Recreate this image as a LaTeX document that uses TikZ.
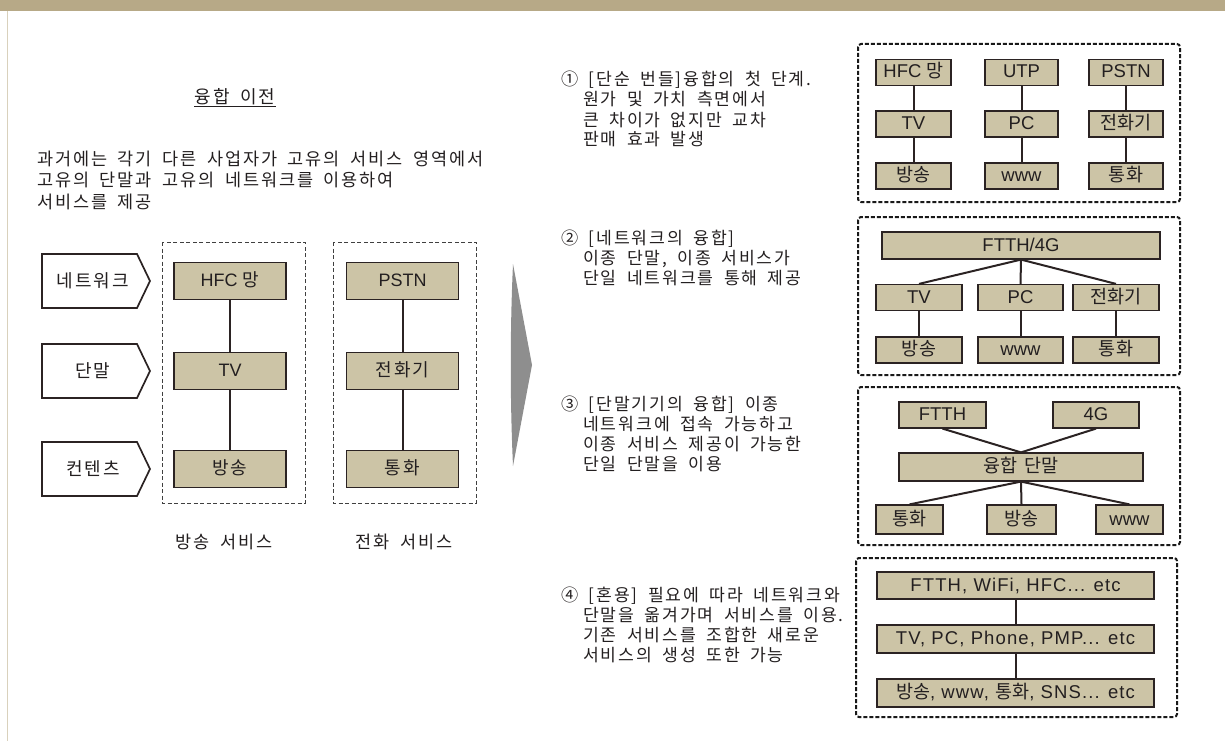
\documentclass[tikz,border=0pt]{standalone}
\usepackage{fontspec}
\setmainfont{Noto Sans CJK KR}[WordSpace=1.8, LetterSpace=11]
\newfontfamily\boxkr{Noto Sans CJK KR}[WordSpace=1.5]
\newfontfamily\lat{Liberation Sans}
\newfontfamily\latw{Liberation Sans}[LetterSpace=6]
\definecolor{boxtan}{HTML}{CCC4A6}
\definecolor{bandtan}{HTML}{B7A987}
\definecolor{linetan}{HTML}{D9D1BC}
\definecolor{ink}{HTML}{2B2323}
\definecolor{txt}{HTML}{231F20}
\definecolor{arrowgray}{HTML}{8E8E8E}
\tikzset{
  lbox/.style={draw=ink, fill=boxtan, line width=1.3pt, inner sep=0pt, minimum width=112pt, minimum height=37pt, text=txt, font=\fontsize{18}{20}\selectfont, text height=13pt, text depth=2pt},
  rbox/.style={draw=ink, fill=boxtan, line width=1.2pt, inner sep=0pt, minimum height=26pt, text=txt, font=\fontsize{18.5}{20}\selectfont\boxkr, text height=13pt, text depth=2pt},
  link/.style={draw=ink, line width=2pt},
  ldash/.style={draw=black!75, line width=0.9pt, dash pattern=on 4pt off 2.5pt},
  rdash/.style={draw=black!90, line width=2pt, dash pattern=on 4pt off 2pt, rounded corners=3pt},
  penta/.style={draw=ink, fill=white, line width=1.7pt},
  plabel/.style={text=txt, font=\fontsize{18}{20}\selectfont, inner sep=0pt},
  ptext/.style={text=txt, font=\fontsize{17.5}{21.5}\selectfont, align=left, anchor=base west, inner sep=0pt},
  rtext/.style={text=txt, font=\fontsize{17.2}{20}\selectfont, align=left, anchor=base west, inner sep=0pt},
  caption/.style={text=txt, font=\fontsize{17.5}{20}\selectfont, inner sep=0pt},
}
\begin{document}
\begin{tikzpicture}[x=1pt,y=-1pt]
\useasboundingbox (0,0) rectangle (1225,741);
\fill[bandtan] (0,0) rectangle (1225,11);
\draw[linetan, line width=1.5pt] (7.5,11) -- (7.5,741);

% ---------- left part ----------
\node[caption, font=\fontsize{18}{20}\selectfont, anchor=base] (title) at (235,104) {융합 이전};
\draw[txt, line width=0.8pt] ([yshift=-2.5pt]title.base west) -- ([yshift=-2.5pt]title.base east);

% anchor base = baseline of the last line
\node[ptext] (intro) at (37,208) {과거에는 각기 다른 사업자가 고유의 서비스 영역에서\\고유의 단말과 고유의 네트워크를 이용하여\\서비스를 제공};

\foreach \yy/\nn/\tt in {281/net/네트워크, 371/term/단말, 469/cont/컨텐츠} {
  \draw[penta] (42,\yy-27) -- (137,\yy-27) -- (150,\yy) -- (137,\yy+27) -- (42,\yy+27) -- cycle;
  \node[plabel] (\nn) at (93,\yy) {\tt};
}

\draw[ldash] (162,242) rectangle (305,503);
\draw[ldash] (333,242) rectangle (476,503);

\node[lbox] (a1) at (230,281) {{\lat HFC }망};
\node[lbox] (a2) at (230,371) {\lat TV};
\node[lbox] (a3) at (230,469) {방송};
\node[lbox] (b1) at (402.5,281) {\lat PSTN};
\node[lbox] (b2) at (402.5,371) {전화기};
\node[lbox] (b3) at (402.5,469) {통화};
\draw[link] (a1) -- (a2);
\draw[link] (a2) -- (a3);
\draw[link] (b1) -- (b2);
\draw[link] (b2) -- (b3);

\node[caption] (s1) at (224,542) {방송 서비스};
\node[caption] (s2) at (404,542) {전화 서비스};

\fill[arrowgray] (513,264) .. controls (510,330) and (510,400) .. (513,466) -- (532,365) -- cycle;

% ---------- right texts (anchor at last baseline) ----------
\node[rtext] (t1) at (561,146) {① [단순 번들]융합의 첫 단계.\\\hspace*{22pt}원가 및 가치 측면에서\\\hspace*{22pt}큰 차이가 없지만 교차\\\hspace*{22pt}판매 효과 발생};
\node[rtext] (t2) at (561,284) {② [네트워크의 융합]\\\hspace*{22pt}이종 단말, 이종 서비스가\\\hspace*{22pt}단일 네트워크를 통해 제공};
\node[rtext] (t3) at (561,470) {③ [단말기기의 융합] 이종\\\hspace*{22pt}네트워크에 접속 가능하고\\\hspace*{22pt}이종 서비스 제공이 가능한\\\hspace*{22pt}단일 단말을 이용};
\node[rtext] (t4) at (561,661) {④ [혼용] 필요에 따라 네트워크와\\\hspace*{22pt}단말을 옮겨가며 서비스를 이용.\\\hspace*{22pt}기존 서비스를 조합한 새로운\\\hspace*{22pt}서비스의 생성 또한 가능};

% ---------- box 1 ----------
\draw[rdash] (858,44) rectangle (1180,202);
\node[rbox, minimum width=75pt] (c1) at (913.5,72.5) {{\lat HFC }망};
\node[rbox, minimum width=75pt] (c2) at (913.5,124) {\lat TV};
\node[rbox, minimum width=75pt] (c3) at (913.5,176) {방송};
\node[rbox, minimum width=73pt] (d1) at (1021.5,72.5) {\lat UTP};
\node[rbox, minimum width=73pt] (d2) at (1021.5,124) {\lat PC};
\node[rbox, minimum width=73pt] (d3) at (1021.5,176) {\lat www};
\node[rbox, minimum width=74pt] (e1) at (1126,72.5) {\lat PSTN};
\node[rbox, minimum width=74pt] (e2) at (1126,124) {전화기};
\node[rbox, minimum width=74pt] (e3) at (1126,176) {통화};
\draw[link] (c1) -- (c2);
\draw[link] (c2) -- (c3);
\draw[link] (d1) -- (d2);
\draw[link] (d2) -- (d3);
\draw[link] (e1) -- (e2);
\draw[link] (e2) -- (e3);

% ---------- box 2 ----------
\draw[rdash] (858,217) rectangle (1180,375);
\node[rbox, minimum width=278pt, minimum height=27pt] (f0) at (1021,245.5) {\lat FTTH/4G};
\node[rbox, minimum width=86pt] (f1) at (919,297.5) {\lat TV};
\node[rbox, minimum width=85pt] (f2) at (1020.5,297.5) {\lat PC};
\node[rbox, minimum width=86pt] (f3) at (1116,297.5) {전화기};
\node[rbox, minimum width=86pt] (g1) at (919,350) {방송};
\node[rbox, minimum width=85pt] (g2) at (1020.5,350) {\lat www};
\node[rbox, minimum width=86pt] (g3) at (1116,350) {통화};
\draw[link] (f0.south) -- (f1.north);
\draw[link] (f0.south) -- (f2.north);
\draw[link] (f0.south) -- (f3.north);
\draw[link] (f1) -- (g1);
\draw[link] (f2) -- (g2);
\draw[link] (f3) -- (g3);

% ---------- box 3 ----------
\draw[rdash] (858,387) rectangle (1180,545);
\node[rbox, minimum width=87pt] (h1) at (942.5,415) {\lat FTTH};
\node[rbox, minimum width=86pt] (h2) at (1096,415) {\lat 4G};
\node[rbox, minimum width=244pt, minimum height=28pt] (h0) at (1021,467) {융합 단말};
\node[rbox, minimum width=67pt, minimum height=29pt] (k1) at (909.5,519.5) {통화};
\node[rbox, minimum width=69pt, minimum height=29pt] (k2) at (1021.5,519.5) {방송};
\node[rbox, minimum width=67pt, minimum height=29pt] (k3) at (1129.5,519.5) {\lat www};
\draw[link] (h1.south) -- (h0.north);
\draw[link] (h2.south) -- (h0.north);
\draw[link] (h0.south) -- (k1.north);
\draw[link] (h0.south) -- (k2.north);
\draw[link] (h0.south) -- (k3.north);

% ---------- box 4 ----------
\draw[rdash] (856,558) rectangle (1177,717);
\node[rbox, minimum width=277pt, minimum height=27pt] (m1) at (1015.5,585.5) {\latw FTTH, WiFi, HFC... etc};
\node[rbox, minimum width=277pt, minimum height=28pt] (m2) at (1015.5,639) {\latw TV, PC, Phone, PMP... etc};
\node[rbox, minimum width=277pt, minimum height=28pt] (m3) at (1015.5,693) {방송{\latw , www, }통화{\latw , SNS... etc}};
\draw[link] (m1) -- (m2);
\draw[link] (m2) -- (m3);
\end{tikzpicture}
\end{document}
